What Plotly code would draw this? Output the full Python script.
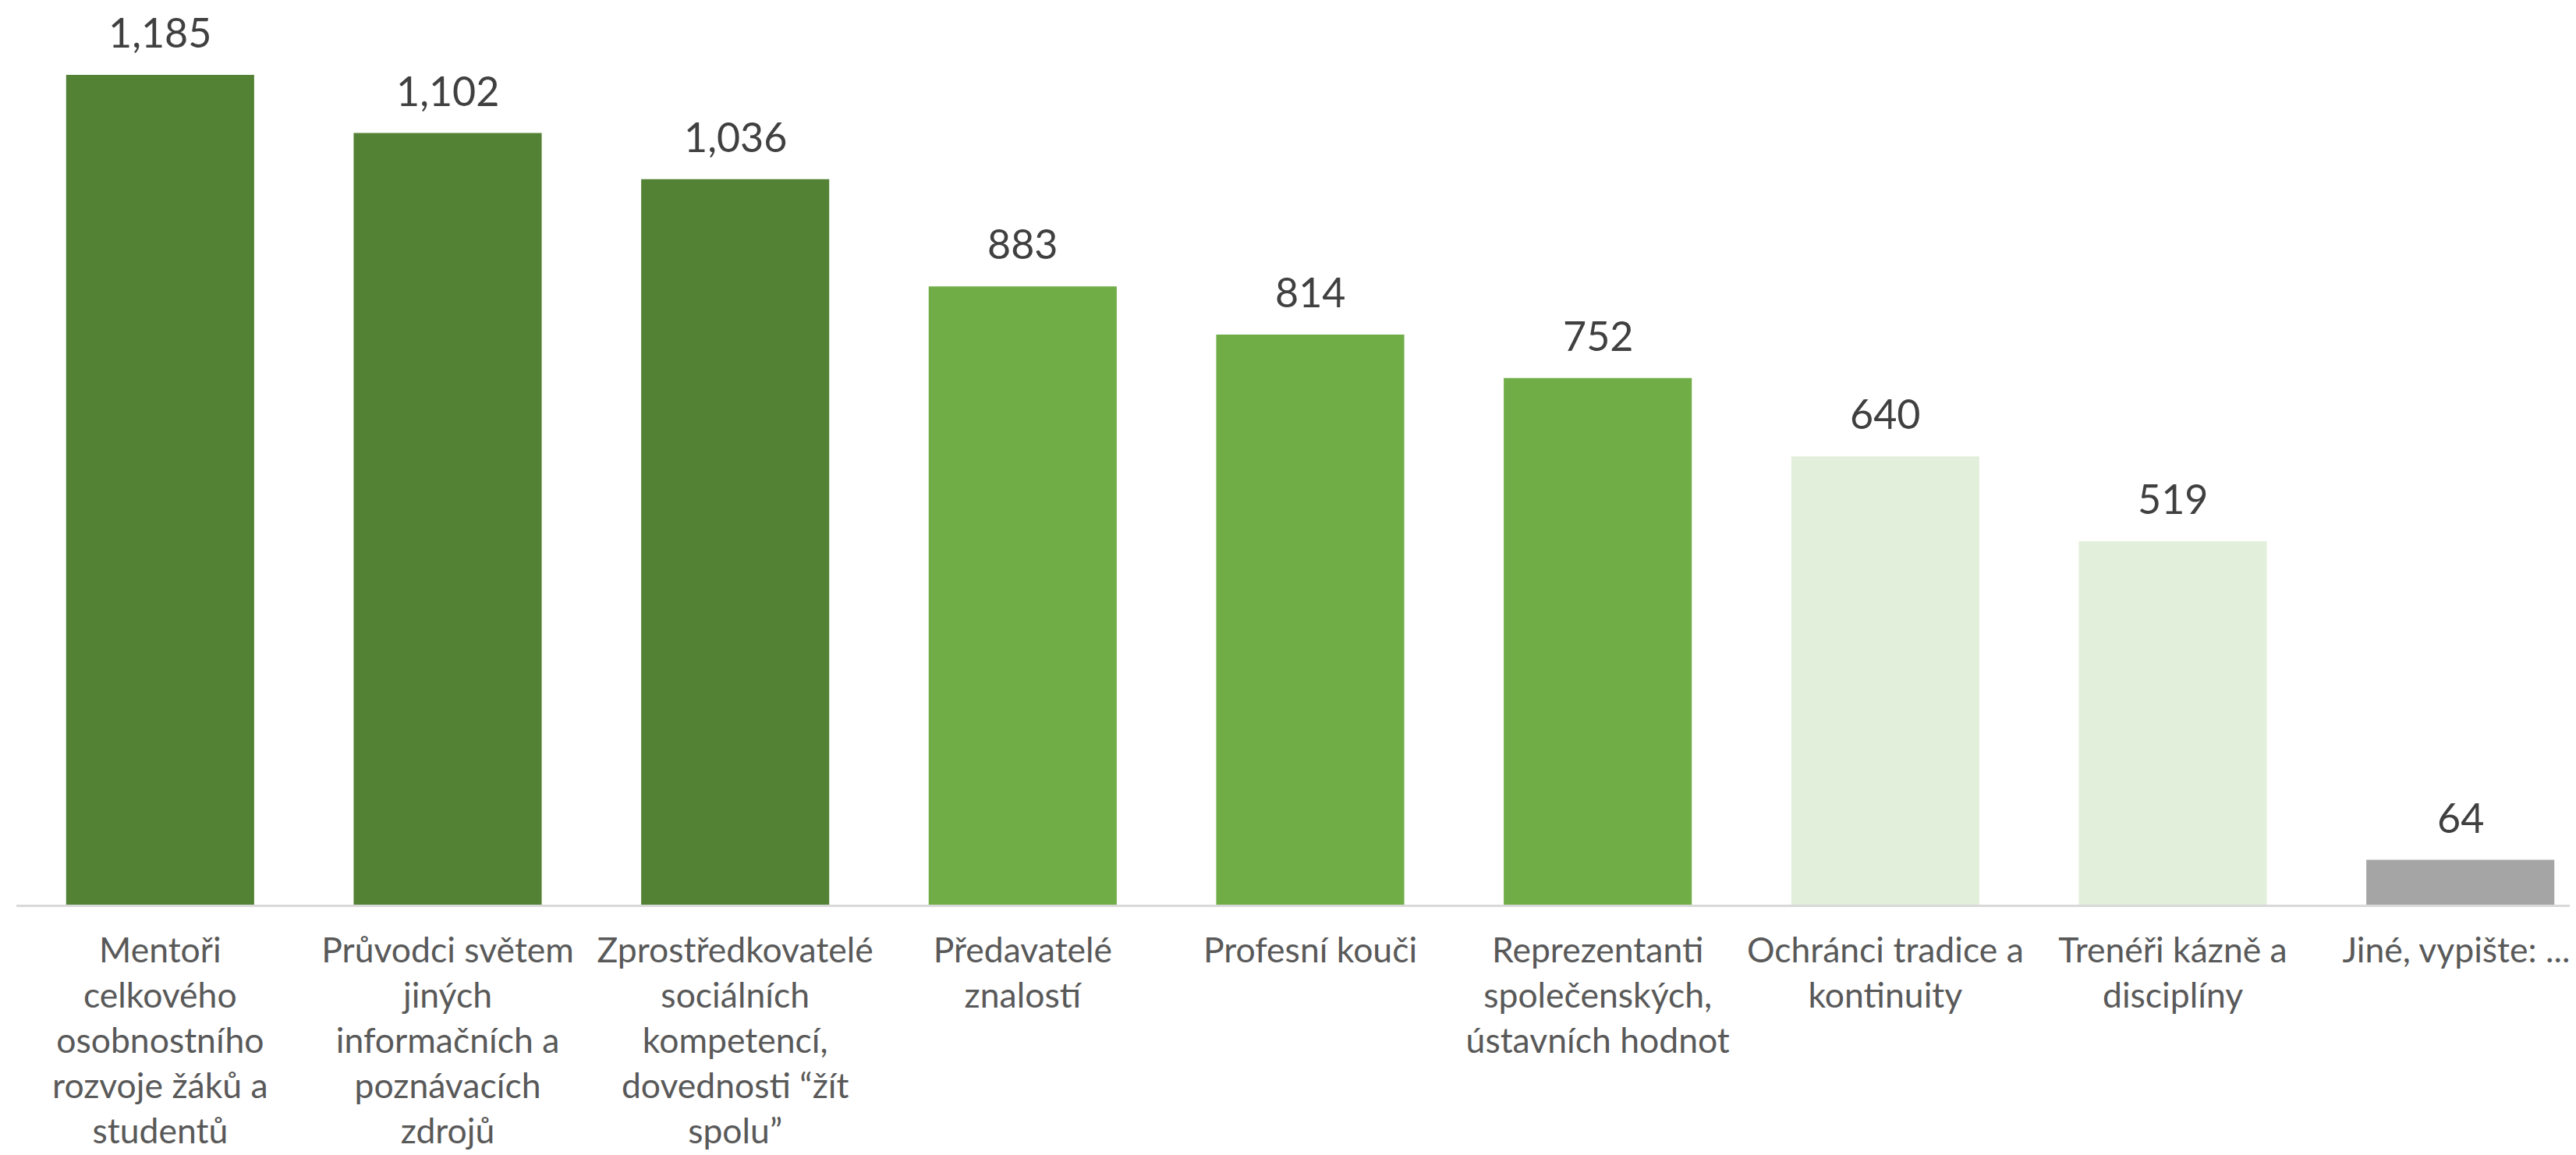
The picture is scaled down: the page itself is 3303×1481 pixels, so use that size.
import plotly.graph_objects as go

categories = [
    "Mentoři<br>celkového<br>osobnostního<br>rozvoje žáků a<br>studentů",
    "Průvodci světem<br>jiných<br>informačních a<br>poznávacích<br>zdrojů",
    "Zprostředkovatelé<br>sociálních<br>kompetencí,<br>dovednosti “žít<br>spolu”",
    "Předavatelé<br>znalostí",
    "Profesní kouči",
    "Reprezentanti<br>společenských,<br>ústavních hodnot",
    "Ochránci tradice a<br>kontinuity",
    "Trenéři kázně a<br>disciplíny",
    "Jiné, vypište: ....",
]
values = [1185, 1102, 1036, 883, 814, 752, 640, 519, 64]
bar_colors = ["#548235", "#548235", "#548235",
              "#70AD47", "#70AD47", "#70AD47",
              "#E2EFDA", "#E2EFDA", "#A5A5A5"]

FONT = "Lato"
x_idx = list(range(len(categories)))

fig = go.Figure()
fig.add_trace(go.Bar(
    x=x_idx, y=values,
    marker=dict(color=bar_colors, line=dict(width=0)),
    hoverinfo="skip",
))

for i, v in zip(x_idx, values):
    fig.add_annotation(
        x=i, y=v, xref="x", yref="y",
        text=f"{v:,}", showarrow=False,
        yanchor="bottom", yshift=22,
        font=dict(family=FONT, size=52, color="#404040"),
    )

fig.update_layout(
    width=3303, height=1481,
    margin=dict(l=13, r=0, t=0, b=329),
    paper_bgcolor="white", plot_bgcolor="white",
    bargap=0.346,
    showlegend=False,
    font=dict(family=FONT),
)
fig.update_xaxes(
    range=[-0.5, 8.424],
    tickmode="array", tickvals=x_idx, ticktext=categories,
    tickangle=0,
    tickfont=dict(family=FONT, size=44.5, color="#595959"),
    showline=True, linecolor="#D9D9D9", linewidth=3,
    showgrid=False, zeroline=False, ticks="",
    ticklabelstandoff=18,
    ticklabeloverflow="allow",
    automargin=False,
)
fig.update_yaxes(
    range=[0, 1283],
    showticklabels=False, showgrid=False, zeroline=False, showline=False,
    automargin=False,
)

fig.write_html("out.html")
